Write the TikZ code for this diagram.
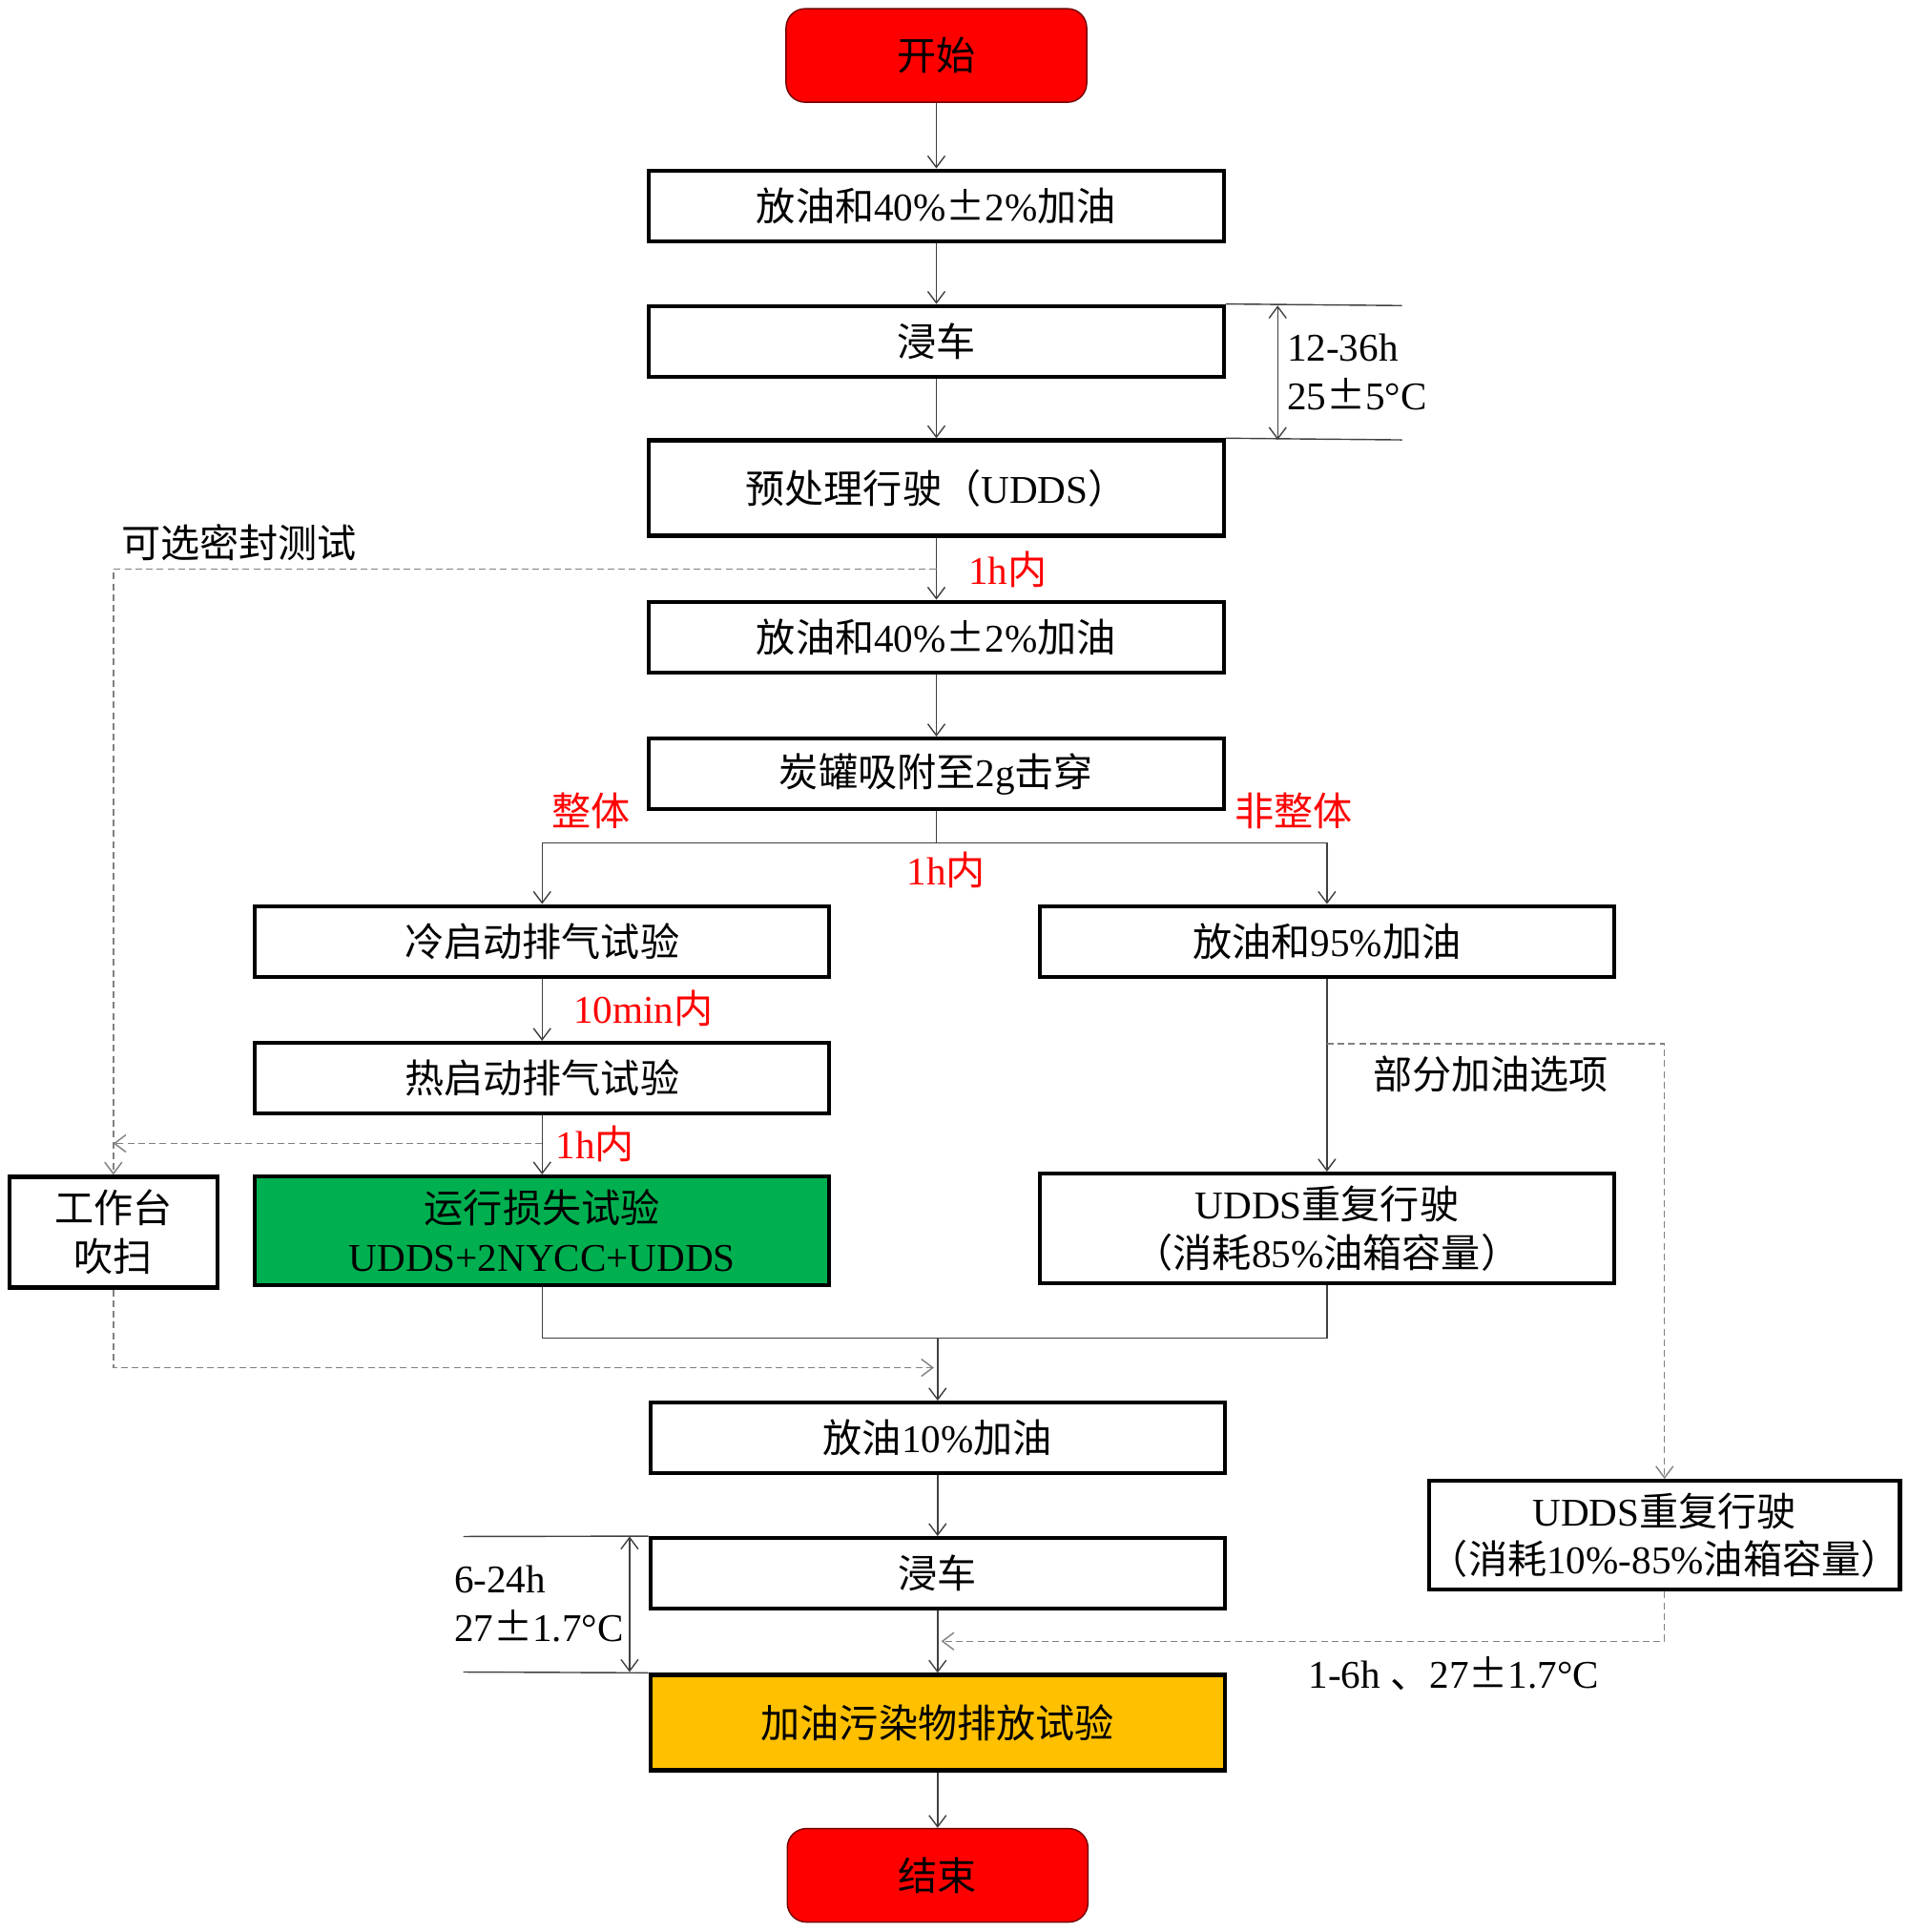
\documentclass[tikz,border=0pt]{standalone}
\usepackage{fontspec}
\setmainfont{Liberation Serif}
\newfontfamily\cjk{Noto Sans CJK SC}
\usetikzlibrary{arrows.meta}
\newcommand{\zh}[1]{{\cjk #1}}
\definecolor{runGreen}{HTML}{00B050}
\definecolor{refuelGold}{HTML}{FFC000}
\definecolor{lineGray}{HTML}{404040}
\tikzset{stepbox/.style={draw, line width=1.2pt, minimum width=6.02cm, minimum height=0.74cm, align=center, inner sep=0pt},
  terminal/.style={draw=red!45!black, fill=red, rounded corners=0.2cm, minimum width=3.15cm, minimum height=0.98cm},
  link/.style={draw=lineGray, line width=0.4pt},
  flow/.style={link, -{Straight Barb[length=1.2mm,width=1.8mm]}},
  optflow/.style={draw=gray, line width=0.4pt, dash pattern=on 2pt off 1.2pt, -{Straight Barb[length=1.2mm,width=1.8mm]}},
  note/.style={text=red}}

\begin{document}
\begin{tikzpicture}[x=0.012912cm, y=-0.012912cm, font=\fontsize{11.7}{14.5}\selectfont]
            \useasboundingbox (0,0) rectangle (1549,1568);
            % Main column
            \node[terminal] (start) at (760,45) {\zh{开始}};
            \node[stepbox] (drainA) at (760,167) {\zh{放油和}40\%\zh{±}2\%\zh{加油}};
            \node[stepbox] (soakA) at (760,277) {\zh{浸车}};
            \node[stepbox, minimum height=1.0cm] (precon) at (760,396) {\zh{预处理行驶（}UDDS\zh{）}};
            \node[stepbox] (drainB) at (760,517) {\zh{放油和}40\%\zh{±}2\%\zh{加油}};
            \node[stepbox] (canister) at (760,628) {\zh{炭罐吸附至}2g\zh{击穿}};
            \node[stepbox] (cold) at (440,764) {\zh{冷启动排气试验}};
            \node[stepbox] (hot) at (440,875) {\zh{热启动排气试验}};
            \node[stepbox, fill=runGreen, minimum height=1.14cm] (runloss) at (440,999) {\zh{运行损失试验}\\UDDS+2NYCC+UDDS};
            \node[stepbox, minimum width=2.18cm, minimum height=1.16cm] (bench) at (92,1000) {\zh{工作台}\\\zh{吹扫}};
            \node[stepbox] (drainC) at (1077,764) {\zh{放油和}95\%\zh{加油}};
            \node[stepbox, minimum height=1.15cm] (uddsA) at (1077,997) {UDDS\zh{重复行驶}\\\zh{（消耗}85\%\zh{油箱容量）}};
            \node[stepbox, minimum width=4.88cm, minimum height=1.14cm] (uddsB) at (1351,1246) {UDDS\zh{重复行驶}\\\zh{（消耗}10\%-85\%\zh{油箱容量）}};
            \node[stepbox] (drainD) at (761,1167) {\zh{放油}10\%\zh{加油}};
            \node[stepbox] (soakB) at (761,1277) {\zh{浸车}};
            \node[stepbox, fill=refuelGold, minimum height=1.0cm] (refuel) at (761,1398) {\zh{加油污染物排放试验}};
            \node[terminal] (finish) at (761,1522) {\zh{结束}};
            \draw[flow] (start) -- (drainA);
            \draw[flow] (drainA) -- (soakA);
            \draw[flow] (soakA) -- (precon);
            \draw[flow] (precon) -- (drainB);
            \draw[flow] (drainB) -- (canister);
            \coordinate (split) at (760,684); \coordinate (merge) at (761,1086);
            \draw[link] (canister) -- (split);
            \draw[flow] (split) -| (cold.north);
            \draw[flow] (split) -| (drainC.north);
            \draw[flow] (cold) -- (hot);
            \draw[flow] (hot) -- (runloss);
            \draw[flow] (drainC) -- (uddsA);
            \draw[link] (runloss.south) |- (merge) -| (uddsA.south);
            \draw[flow] (merge) -- (drainD);
            \draw[flow] (drainD) -- (soakB);
            \draw[flow] (soakB) -- (refuel);
            \draw[flow] (refuel) -- (finish);
            % Options
            \coordinate (sealTap) at (760,462); \coordinate (hotTap) at (440,928); \coordinate (benchJoin) at (758,1110);
            \coordinate (partTap) at (1077,847); \coordinate (soakJoin) at (764,1332);
            \draw[optflow] (sealTap) -| (bench.north);
            \draw[optflow] (hotTap) -- (hotTap -| bench.north);
            \draw[optflow] (bench.south) |- (benchJoin);
            \draw[optflow] (partTap) -| (uddsB.north);
            \draw[optflow] (uddsB.south) |- (soakJoin);
            % Soak windows
            \coordinate (dimA) at (1138,248); \coordinate (dimB) at (1138,357);
            \coordinate (dimC) at (376,1247); \coordinate (dimD) at (376,1357);
            \draw[link] (soakA.north east) -- (dimA) (precon.north east) -- (dimB);
            \draw[link, {Straight Barb[length=1.2mm,width=1.8mm]}-{Straight Barb[length=1.2mm,width=1.8mm]}] (1037,248) -- (1037,357);
            \draw[link] (soakB.north west) -- (dimC) (refuel.north west) -- (dimD);
            \draw[link, {Straight Barb[length=1.2mm,width=1.8mm]}-{Straight Barb[length=1.2mm,width=1.8mm]}] (511,1247) -- (511,1357);
            \node[anchor=west, align=left] (soakNoteA) at (1035,302) {12-36h\\25\zh{±}5°C};
            \node[anchor=west, align=left] (soakNoteB) at (359,1302) {6-24h\\27\zh{±}1.7°C};
            \node (partNote) at (1180,1358) {1-6h \zh{、}27\zh{±}1.7°C};
            % Labels
            \node (sealNote) at (194,440) {\zh{可选密封测试}};
            \node (partOption) at (1210,872) {\zh{部分加油选项}};
            \node[note] (sealTime) at (818,462) {1h\zh{内}};
            \node[note] (wholeNote) at (480,658) {\zh{整体}};
            \node[note] (partialNote) at (1050,658) {\zh{非整体}};
            \node[note] (splitTime) at (768,706) {1h\zh{内}};
            \node[note] (hotTime) at (522,818) {10min\zh{内}};
            \node[note] (runTime) at (483,928) {1h\zh{内}};
        \end{tikzpicture}
\end{document}
